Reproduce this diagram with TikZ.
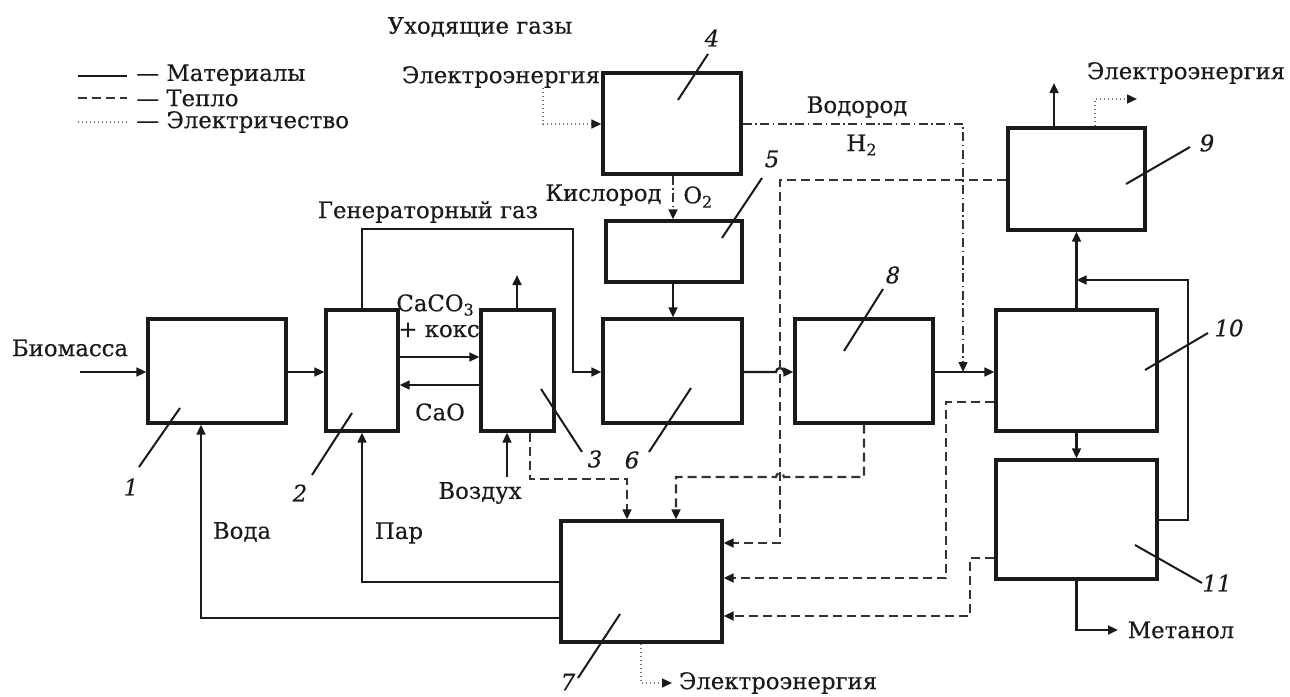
\documentclass[tikz,border=0pt]{standalone}
\usepackage{fontspec}
\setmainfont{DejaVu Serif}[FakeBold=0.4]
\usetikzlibrary{arrows.meta}
\definecolor{ink}{HTML}{1A1A1A}
\definecolor{heatc}{HTML}{333333}
\definecolor{elc}{HTML}{7A7A7A}
\begin{document}
\begin{tikzpicture}[x=0.5pt,y=-0.5pt,
  every node/.style={font=\fontsize{11.4pt}{13pt}\selectfont, text=ink, inner sep=0pt},
  box/.style={draw=ink, line width=1.6pt, fill=white},
  tip/.style={-{Triangle[length=5pt,width=4.4pt,color=ink]}},
  mat/.style={draw=ink, line width=1.1pt, tip},
  matl/.style={draw=ink, line width=1.1pt},
  heat/.style={draw=heatc, line width=1.1pt, dash pattern=on 4.5pt off 2.5pt, tip},
  heatl/.style={draw=heatc, line width=1.1pt, dash pattern=on 4.5pt off 2.5pt},
  hyd/.style={draw=heatc, line width=1pt, dash pattern=on 4.5pt off 1.8pt on 0.7pt off 1.8pt, tip},
  elec/.style={draw=elc, line width=1pt, dash pattern=on 0.7pt off 1.3pt, tip},
  elecl/.style={draw=elc, line width=1pt, dash pattern=on 0.7pt off 1.3pt},
  lead/.style={draw=ink, line width=1pt},
  num/.style={font=\fontsize{11.4pt}{13pt}\selectfont\itshape}
]
\useasboundingbox (0,0) rectangle (1290,696);

% boxes
\node[box, minimum width=69pt, minimum height=52pt] (b1) at (217,371) {};
\node[box, minimum width=36pt, minimum height=60.5pt] (b2) at (362,370.5) {};
\node[box, minimum width=36.5pt, minimum height=60.5pt] (b3) at (517.5,370.5) {};
\node[box, minimum width=69pt, minimum height=50.5pt] (b4) at (672,123.5) {};
\node[box, minimum width=68pt, minimum height=30.5pt] (b5) at (674,251.5) {};
\node[box, minimum width=69.5pt, minimum height=52pt] (b6) at (672.5,371) {};
\node[box, minimum width=80.5pt, minimum height=60.5pt] (b7) at (641.5,581.5) {};
\node[box, minimum width=69pt, minimum height=52pt] (b8) at (864,371) {};
\node[box, minimum width=68.5pt, minimum height=51pt] (b9) at (1076.5,179) {};
\node[box, minimum width=80.5pt, minimum height=60.5pt] (b10) at (1076.5,370.5) {};
\node[box, minimum width=80.5pt, minimum height=59.5pt] (b11) at (1076.5,519.5) {};

% legend
\coordinate (lg1a) at (78,76); \coordinate (lg1b) at (127,76);
\coordinate (lg2a) at (78,98); \coordinate (lg2b) at (127,98);
\coordinate (lg3a) at (78,122); \coordinate (lg3b) at (127,122);
\draw[matl] (lg1a) -- (lg1b);
\draw[heatl] (lg2a) -- (lg2b);
\draw[elecl] (lg3a) -- (lg3b);
\node[anchor=west] (lt1) at (136,75) {— Материалы};
\node[anchor=west] (lt2) at (136,98) {— Тепло};
\node[anchor=west] (lt3) at (136,122) {— Электричество};

% coordinates
\coordinate (bio) at (80,372);
\coordinate (vd) at (201,618);
\coordinate (pr) at (362,582);
\coordinate (gg1) at (573,229);
\coordinate (gg2) at (573,372);
\coordinate (cc) at (0,357);
\coordinate (co) at (0,385);
\coordinate (b3up) at (517,275);
\coordinate (air) at (507,477);
\coordinate (h3a) at (530,479);
\coordinate (h3b) at (627,479);
\coordinate (h8a) at (864,477);
\coordinate (h8c) at (784,477);
\coordinate (h8b) at (676,477);
\coordinate (h9a) at (780,180);
\coordinate (h9b) at (780,543);
\coordinate (h10a) at (946,402);
\coordinate (h10b) at (946,578);
\coordinate (h11a) at (970,558);
\coordinate (h11b) at (970,616);
\coordinate (hy1) at (963,124);
\coordinate (hy2) at (963,372);
\coordinate (ox) at (673,0);
\coordinate (el1) at (543,88);
\coordinate (el2) at (543,124);
\coordinate (g68) at (776,372);
\coordinate (lp1) at (1188,520);
\coordinate (lp2) at (1188,280);
\coordinate (me) at (1118,630);
\coordinate (up9) at (1054,83);
\coordinate (e9a) at (1095,99);
\coordinate (e9b) at (1137,99);
\coordinate (e7a) at (641,683);
\coordinate (e7b) at (672,683);

% material flows
\draw[mat] (bio) -- (b1.west |- bio);
\draw[mat] (b1.east |- bio) -- (b2.west |- bio);
\draw[mat] (b7.west |- vd) -| (b1.south -| vd);
\draw[mat] (b7.west |- pr) -| (b2.south -| pr);
\draw[mat] (b2.north) |- (gg1) -- (gg2) -- (b6.west |- gg2);
\draw[mat] (b2.east |- cc) -- (b3.west |- cc);
\draw[mat] (b3.west |- co) -- (b2.east |- co);
\draw[mat] (b3.north -| b3up) -- (b3up);
\draw[mat] (air) -- (b3.south -| air);
\draw[mat] (b5.south -| ox) -- (b6.north -| ox);
\draw[mat] (b6.east |- g68) -- (g68) arc (180:0:2pt) -- (b8.west |- g68);
\draw[mat] (b8.east |- hy2) -- (b10.west |- hy2);
\draw[mat] (b10.north) -- (b9.south);
\draw[mat] (b11.east |- lp1) -- (lp1) -- (lp2) -- (b10.north |- lp2);
\draw[mat] (b10.south) -- (b11.north);
\draw[mat] (b11.south) |- (me);
\draw[mat] (b9.north -| up9) -- (up9);

% heat flows
\draw[heat] (b3.south -| h3a) -- (h3a) -- (h3b) -- (b7.north -| h3b);
\draw[heat] (b8.south -| h8a) -- (h8a) -- (h8c) arc (0:180:2pt) -- (h8b) -- (b7.north -| h8b);
\draw[heat] (b9.west |- h9a) -- (h9a) -- (h9b) -- (b7.east |- h9b);
\draw[heat] (b10.west |- h10a) -- (h10a) -- (h10b) -- (b7.east |- h10b);
\draw[heat] (b11.west |- h11a) -- (h11a) -- (h11b) -- (b7.east |- h11b);

% hydrogen, oxygen
\draw[hyd] (b4.east |- hy1) -- (hy1) -- (hy2);
\draw[hyd] (b4.south -| ox) -- (b5.north -| ox);

% electricity
\draw[elec] (el1) -- (el2) -- (b4.west |- el2);
\draw[elec] (b9.north -| e9a) -- (e9a) -- (e9b);
\draw[elec] (b7.south -| e7a) -- (e7a) -- (e7b);

% labels
\node (t1) at (480,27) {Уходящие газы};
\node (t2) at (501,77) {Электроэнергия};
\node (t3) at (857,107) {Водород};
\node (t4) at (862,145) {H\textsubscript{2}};
\node[anchor=east] (t5) at (662,195) {Кислород};
\node[anchor=west] (t6) at (683,197) {O\textsubscript{2}};
\node (t7) at (428,212) {Генераторный газ};
\node[anchor=west] (t8) at (396,305) {CaCO\textsubscript{3}};
\node[anchor=west] (t9) at (398,330) {+ кокс};
\node (t10) at (440,412) {CaO};
\node (t11) at (70,348) {Биомасса};
\node (t12) at (242,532) {Вода};
\node (t13) at (399,533) {Пар};
\node (t14) at (480,493) {Воздух};
\node (t15) at (778,683) {Электроэнергия};
\node (t16) at (1186,73) {Электроэнергия};
\node (t17) at (1181,630) {Метанол};

% numbers and leaders
\node[num] (n1) at (131,487) {1};
\node[num] (n2) at (300,493) {2};
\node[num] (n3) at (595,459) {3};
\node[num] (n4) at (712,38) {4};
\node[num] (n5) at (772,159) {5};
\node[num] (n6) at (632,460) {6};
\node[num] (n7) at (568,682) {7};
\node[num] (n8) at (893,275) {8};
\node[num] (n9) at (1207,143) {9};
\node[num] (n10) at (1229,328) {10};
\node[num] (n11) at (1217,583) {11};
\draw[lead] (180,408) -- (139,467);
\draw[lead] (352,413) -- (312,475);
\draw[lead] (541,389) -- (582,452);
\draw[lead] (678,100) -- (708,54);
\draw[lead] (762,178) -- (722,238);
\draw[lead] (691,388) -- (649,452);
\draw[lead] (620,614) -- (578,678);
\draw[lead] (844,351) -- (883,289);
\draw[lead] (1126,184) -- (1190,147);
\draw[lead] (1145,370) -- (1208,333);
\draw[lead] (1135,545) -- (1202,583);
\end{tikzpicture}
\end{document}
